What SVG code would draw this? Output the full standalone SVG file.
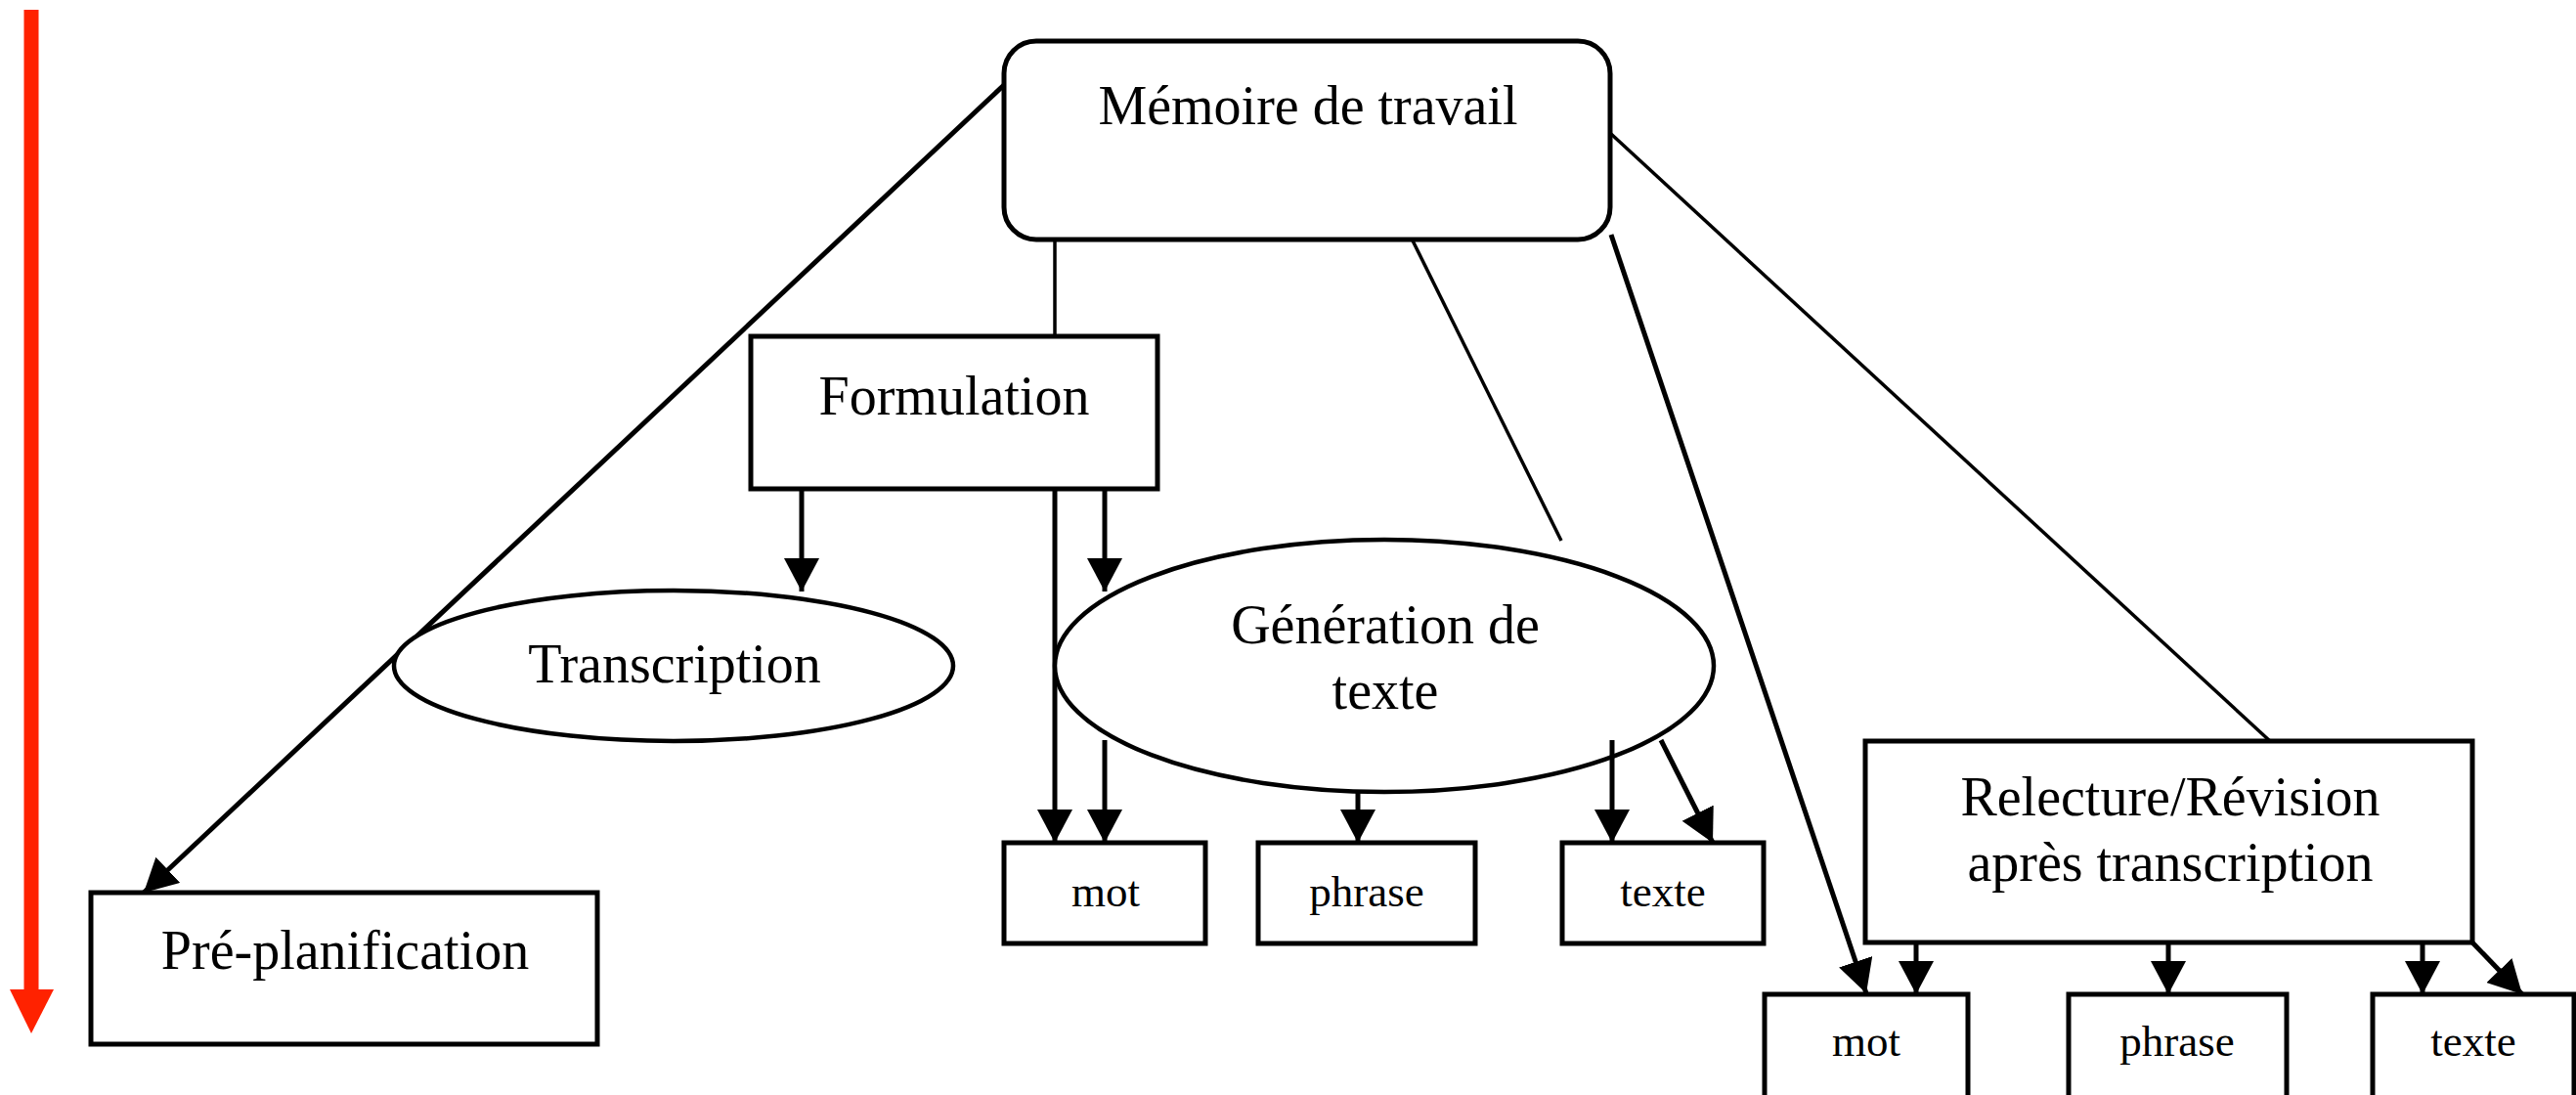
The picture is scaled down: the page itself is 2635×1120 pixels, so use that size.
<svg xmlns="http://www.w3.org/2000/svg" width="2635" height="1120" viewBox="0 0 2635 1120">
<defs>
<style>
.box{fill:#fff;stroke:#000;stroke-width:5}
.ell{fill:#fff;stroke:#000;stroke-width:4.5}
.t{font-family:"Liberation Serif","Times New Roman",serif;font-size:56px;fill:#000;text-anchor:middle}
.s{font-family:"Liberation Serif","Times New Roman",serif;font-size:45px;fill:#000;text-anchor:middle}
.arr{stroke:#000;stroke-width:5;fill:none;marker-end:url(#ah)}
.thin{stroke:#000;stroke-width:3.5;fill:none}
</style>
<marker id="ah" markerUnits="userSpaceOnUse" markerWidth="36" markerHeight="36" refX="34" refY="18" orient="auto">
<path d="M0,0 L34,18 L0,36 Z" fill="#000"/>
</marker>
</defs>
<rect width="2635" height="1120" fill="#fff"/>
<g id="timeline">
<line x1="32" y1="10" x2="32" y2="1014" stroke="#ff2200" stroke-width="15"/>
<path d="M10,1012 L55,1012 L32,1057 Z" fill="#ff2200"/>
</g>
<g id="connectors">
<line class="arr" x1="1028" y1="86" x2="147" y2="913"/>
<line class="thin" x1="1079" y1="240" x2="1079" y2="344"/>
<line class="thin" x1="1442" y1="240" x2="1597" y2="553"/>
<line class="arr" x1="1648" y1="240" x2="1909" y2="1016"/>
<line class="thin" x1="1648" y1="137" x2="2322" y2="758"/>
<line class="arr" x1="820" y1="499" x2="820" y2="605"/>
<line class="arr" x1="1079" y1="499" x2="1079" y2="862"/>
<line class="arr" x1="1130" y1="499" x2="1130" y2="605"/>
</g>
<g id="memoire">
<rect class="box" x="1027" y="42" width="620" height="203" rx="33" ry="33"/>
<text class="t" x="1338" y="127">Mémoire de travail</text>
</g>
<g id="formulation">
<rect class="box" x="768" y="344" width="416" height="156"/>
<text class="t" x="976" y="424">Formulation</text>
</g>
<g id="preplanification">
<rect class="box" x="93" y="913" width="518" height="155"/>
<text class="t" x="353" y="991">Pré-planification</text>
</g>
<g id="transcription">
<ellipse class="ell" cx="689" cy="681" rx="286" ry="77"/>
<text class="t" x="690" y="698">Transcription</text>
</g>
<g id="generation">
<ellipse class="ell" cx="1416" cy="681" rx="337" ry="129"/>
<text class="t" x="1417" y="658">Génération de</text>
<text class="t" x="1417" y="725">texte</text>
</g>
<g id="connectors2">
<line class="arr" x1="1130" y1="757" x2="1130" y2="862"/>
<line class="arr" x1="1389" y1="810" x2="1389" y2="862"/>
<line class="arr" x1="1649" y1="757" x2="1649" y2="862"/>
<line class="arr" x1="1699" y1="757" x2="1752" y2="862"/>
<line class="arr" x1="1960" y1="964" x2="1960" y2="1017"/>
<line class="arr" x1="2218" y1="964" x2="2218" y2="1017"/>
<line class="arr" x1="2478" y1="964" x2="2478" y2="1017"/>
<line class="arr" x1="2529" y1="964" x2="2580" y2="1017"/>
</g>
<g id="mot1">
<rect class="box" x="1027" y="862" width="206" height="103"/>
<text class="s" x="1131" y="927">mot</text>
</g>
<g id="phrase1">
<rect class="box" x="1287" y="862" width="222" height="103"/>
<text class="s" x="1398" y="927">phrase</text>
</g>
<g id="texte1">
<rect class="box" x="1598" y="862" width="206" height="103"/>
<text class="s" x="1701" y="927">texte</text>
</g>
<g id="relecture">
<rect class="box" x="1908" y="758" width="621" height="206"/>
<text class="t" x="2220" y="834">Relecture/Révision</text>
<text class="t" x="2220" y="901">après transcription</text>
</g>
<g id="mot2">
<rect class="box" x="1805" y="1017" width="208" height="120"/>
<text class="s" x="1909" y="1080">mot</text>
</g>
<g id="phrase2">
<rect class="box" x="2116" y="1017" width="223" height="120"/>
<text class="s" x="2227" y="1080">phrase</text>
</g>
<g id="texte2">
<rect class="box" x="2427" y="1017" width="206" height="120"/>
<text class="s" x="2530" y="1080">texte</text>
</g>
</svg>
